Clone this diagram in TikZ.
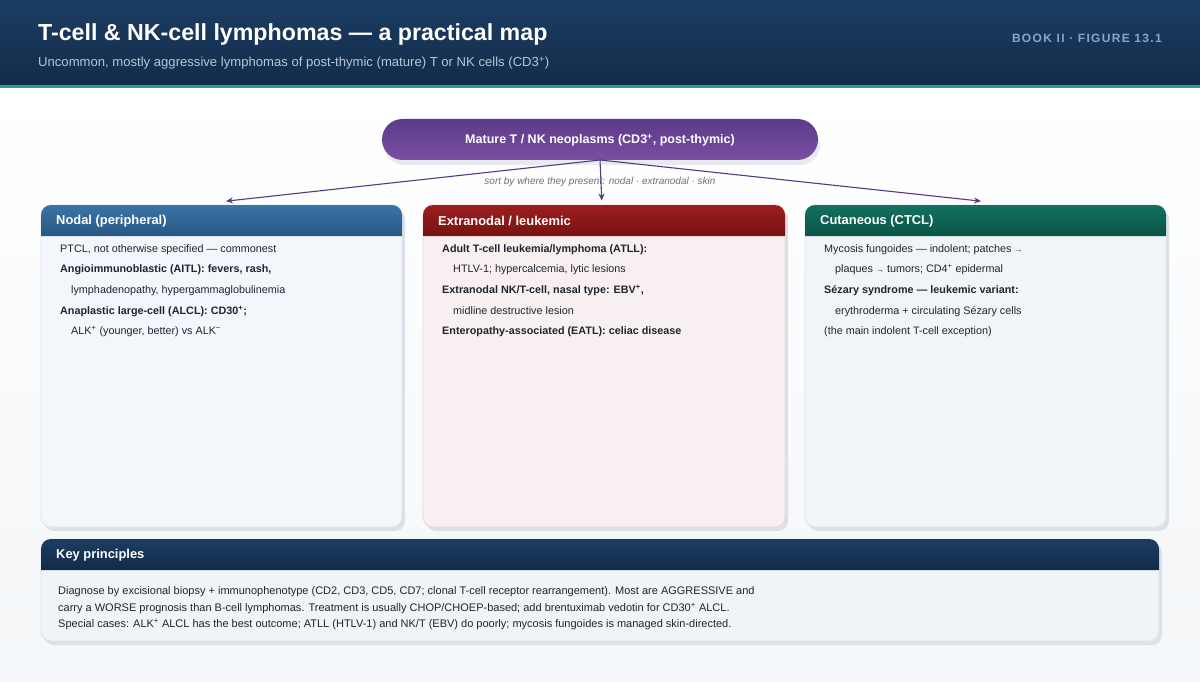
\documentclass[tikz,border=0pt]{standalone}
\usepackage{fontspec}
\setmainfont{Liberation Sans}
\usetikzlibrary{arrows.meta}
\definecolor{navyT}{HTML}{1C3D63}
\definecolor{navyB}{HTML}{132B49}
\definecolor{teal}{HTML}{2A9D8F}
\definecolor{booklbl}{HTML}{80A8CF}
\definecolor{subc}{HTML}{B4C6DA}
\definecolor{purT}{HTML}{5C3A88}
\definecolor{purB}{HTML}{7A4FA2}
\definecolor{arrc}{HTML}{553A80}
\definecolor{sortc}{HTML}{6E6E7E}
\definecolor{textc}{HTML}{1F2430}
\definecolor{blueT}{HTML}{3B74A6}
\definecolor{blueB}{HTML}{285885}
\definecolor{redT}{HTML}{9C1E1E}
\definecolor{redB}{HTML}{781212}
\definecolor{grnT}{HTML}{12715F}
\definecolor{grnB}{HTML}{0B5447}
\definecolor{bodyL}{HTML}{F3F6FA}
\definecolor{bodyM}{HTML}{F8F0F0}
\definecolor{bodyR}{HTML}{F1F5F7}
\definecolor{bodyK}{HTML}{F1F4F7}
\definecolor{edgec}{HTML}{DDE3EA}
\definecolor{shadc}{HTML}{DCE1E7}
\newcommand{\plusx}{\textsuperscript{+}}
\newcommand{\minusx}{\textsuperscript{−}}
\begin{document}
\begin{tikzpicture}[x=1pt,y=-1pt,
  body/.style={anchor=base west, font=\fontsize{10.8}{13}\selectfont, text=textc, inner sep=0pt},
  bodyb/.style={body, font=\fontsize{10.8}{13}\selectfont\bfseries},
  keybody/.style={body, font=\fontsize{11}{13}\selectfont},
  hdr/.style={anchor=west, font=\fontsize{12.9}{15}\selectfont\bfseries, text=white, inner sep=0pt},
  panel/.style={draw=edgec, line width=0.8pt, rounded corners=10pt, inner sep=0pt},
  conn/.style={draw=arrc, line width=1.1pt, -{Stealth[length=7pt,width=6pt]}, shorten >=4pt},
]
\useasboundingbox (0,0) rectangle (1200,682);
% background
\shade[top color=white, bottom color=bodyK!80!white] (0,88) rectangle (1200,682);
% header band
\shade[top color=navyT, bottom color=navyB] (0,0) rectangle (1200,85);
\fill[teal] (0,85) rectangle (1200,88);
\node[anchor=base west, inner sep=0pt, text=white, font=\fontsize{23.2}{27}\selectfont\bfseries] (title) at (38,41) {T-cell \& NK-cell lymphomas — a practical map};
\node[anchor=base west, inner sep=0pt, text=subc, font=\fontsize{13.1}{15}\selectfont] (subtitle) at (38,66.5) {Uncommon, mostly aggressive lymphomas of post-thymic (mature) T or NK cells (CD3\plusx)};
\node[anchor=base east, inner sep=0pt, text=booklbl, font=\fontsize{12}{14}\selectfont\bfseries\addfontfeatures{LetterSpace=11}] (book) at (1162,42.3) {BOOK II · FIGURE 13.1};

% top pill
\fill[shadc!70!white, rounded corners=20pt] (384,125) rectangle (820,165);
\shade[top color=purT, bottom color=purB, rounded corners=20.5pt] (382,119) rectangle (818,160);
\node[inner sep=0pt, text=white, font=\fontsize{12.5}{15}\selectfont\bfseries] (top) at (600,140) {Mature T / NK neoplasms (CD3\plusx, post-thymic)};
\coordinate (topb) at (600,160);
\node[inner sep=0pt, text=sortc, font=\fontsize{10}{12}\selectfont\itshape] (sort) at (600,182) {sort by where they present: nodal · extranodal · skin};

% panels: shadows
\foreach \xa/\xb in {41/402, 423/785, 805/1166}{
  \fill[shadc, rounded corners=10pt] (\xa+3,209) rectangle (\xb+3,531);
}
\fill[shadc, rounded corners=10pt] (44,543) rectangle (1162,645);

% panel bodies
\node[panel, fill=bodyL, minimum width=361pt, minimum height=322pt] (nodal) at (221.5,366) {};
\node[panel, fill=bodyM, minimum width=362pt, minimum height=322pt, draw=edgec!70!pink] (extra) at (604,366) {};
\node[panel, fill=bodyR, minimum width=361pt, minimum height=322pt] (cut) at (985.5,366) {};
\node[panel, fill=bodyK, minimum width=1118pt, minimum height=102pt] (key) at (600,590) {};

% headers
\shade[top color=blueT, bottom color=blueB] (41,236) [rounded corners=10pt] -- (41,205) -- (402,205) [sharp corners] -- (402,236) -- cycle;
\shade[top color=redT, bottom color=redB] (423,236) [rounded corners=10pt] -- (423,205) -- (785,205) [sharp corners] -- (785,236) -- cycle;
\shade[top color=grnT, bottom color=grnB] (805,236) [rounded corners=10pt] -- (805,205) -- (1166,205) [sharp corners] -- (1166,236) -- cycle;
\shade[top color=navyT, bottom color=navyB] (41,570) [rounded corners=10pt] -- (41,539) -- (1159,539) [sharp corners] -- (1159,570) -- cycle;

\node[hdr] (hn) at (56,221) {Nodal (peripheral)};
\node[hdr] (he) at (438,221) {Extranodal / leukemic};
\node[hdr] (hc) at (820,221) {Cutaneous (CTCL)};
\node[hdr] (hk) at (56,555) {Key principles};

% connectors
\draw[conn] (topb) -- ([xshift=0.5pt,yshift=3pt]nodal.north);
\draw[conn] (topb) -- ([xshift=-2pt]extra.north);
\draw[conn] (topb) -- ([xshift=-0.5pt,yshift=3pt]cut.north);

% nodal text
\node[body]  (n1) at (60,252) {PTCL, not otherwise specified — commonest};
\node[bodyb] (n2) at (60,272.7) {Angioimmunoblastic (AITL): fevers, rash,};
\node[body]  (n3) at (71,293.4) {lymphadenopathy, hypergammaglobulinemia};
\node[bodyb] (n4) at (60,314.1) {Anaplastic large-cell (ALCL): CD30\plusx;};
\node[body]  (n5) at (71,334.8) {ALK\plusx{} (younger, better) vs ALK\minusx};

% extranodal text
\node[bodyb] (e1) at (442,252) {Adult T-cell leukemia/lymphoma (ATLL):};
\node[body]  (e2) at (453,272.7) {HTLV-1; hypercalcemia, lytic lesions};
\node[bodyb] (e3) at (442,293.4) {Extranodal NK/T-cell, nasal type: EBV\plusx,};
\node[body]  (e4) at (453,314.1) {midline destructive lesion};
\node[bodyb] (e5) at (442,334.8) {Enteropathy-associated (EATL): celiac disease};

% cutaneous text
\node[body]  (c1) at (824,252) {Mycosis fungoides — indolent; patches {\fontsize{8}{10}\selectfont →}};
\node[body]  (c2) at (835,272.7) {plaques {\fontsize{8}{10}\selectfont →} tumors; CD4\plusx{} epidermal};
\node[bodyb] (c3) at (824,293.4) {Sézary syndrome — leukemic variant:};
\node[body]  (c4) at (835,314.1) {erythroderma + circulating Sézary cells};
\node[body]  (c5) at (824,334.8) {(the main indolent T-cell exception)};

% key text
\node[keybody] (k1) at (58,594.3) {Diagnose by excisional biopsy + immunophenotype (CD2, CD3, CD5, CD7; clonal T-cell receptor rearrangement). Most are AGGRESSIVE and};
\node[keybody] (k2) at (58,611) {carry a WORSE prognosis than B-cell lymphomas. Treatment is usually CHOP/CHOEP-based; add brentuximab vedotin for CD30\plusx{} ALCL.};
\node[keybody] (k3) at (58,627.7) {Special cases: ALK\plusx{} ALCL has the best outcome; ATLL (HTLV-1) and NK/T (EBV) do poorly; mycosis fungoides is managed skin-directed.};
\end{tikzpicture}
\end{document}
